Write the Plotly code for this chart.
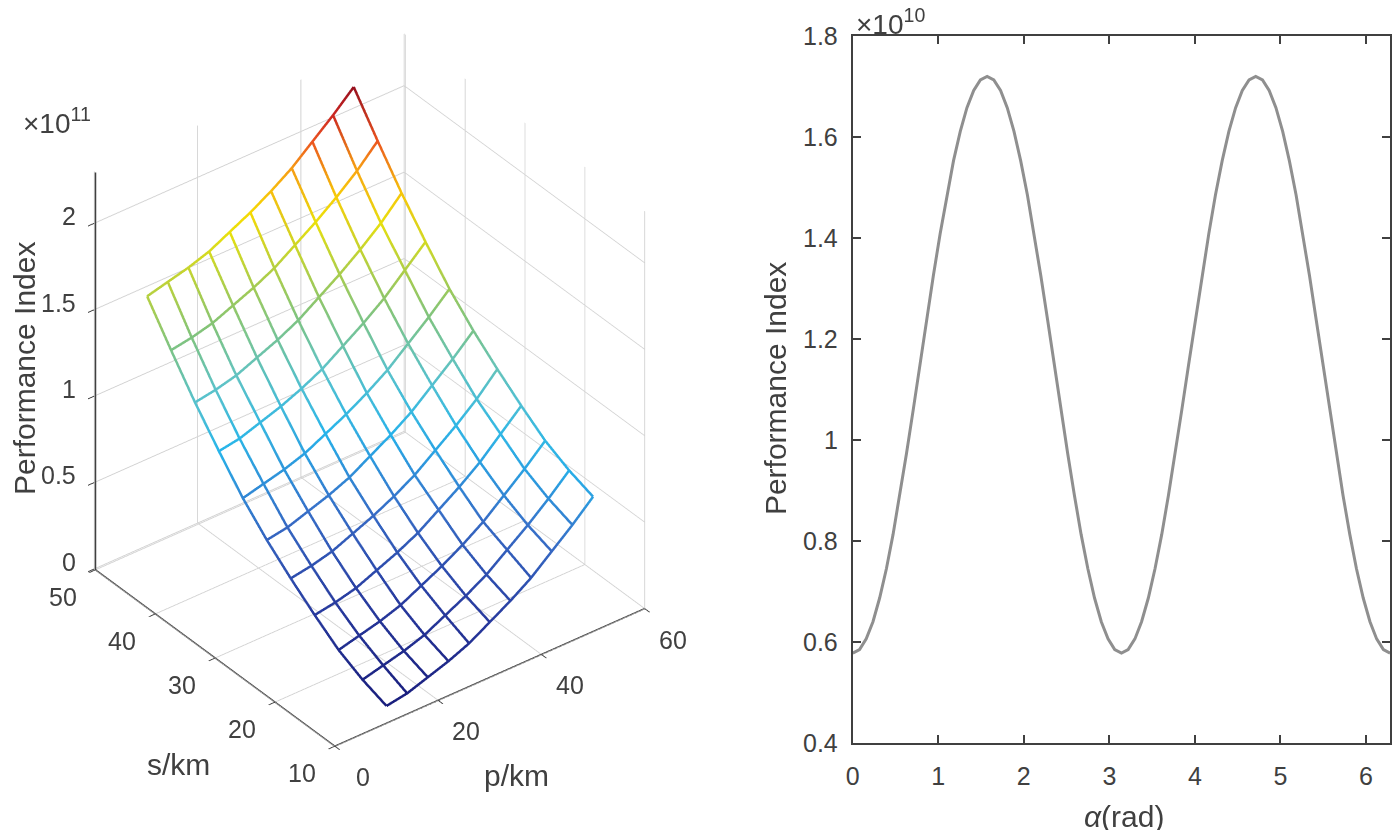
import plotly.graph_objects as go

# left: mesh of the performance index over p and s (values in 1e11)
p_km = [10, 14, 18, 22, 26, 30, 34, 38, 42, 46, 50]
s_km = [10, 14, 18, 22, 26, 30, 34, 38, 42, 46, 50]
perf = [  # rows follow s_km, columns follow p_km
    [0.10, 0.12, 0.16, 0.20, 0.25, 0.32, 0.39, 0.47, 0.57, 0.67, 0.78],
    [0.15, 0.18, 0.21, 0.25, 0.31, 0.37, 0.44, 0.53, 0.62, 0.72, 0.83],
    [0.22, 0.25, 0.28, 0.32, 0.38, 0.44, 0.51, 0.59, 0.69, 0.79, 0.90],
    [0.32, 0.34, 0.37, 0.42, 0.47, 0.53, 0.61, 0.69, 0.78, 0.89, 1.00],
    [0.43, 0.45, 0.48, 0.53, 0.58, 0.64, 0.71, 0.80, 0.89, 0.99, 1.11],
    [0.55, 0.57, 0.61, 0.65, 0.70, 0.77, 0.84, 0.92, 1.02, 1.12, 1.23],
    [0.69, 0.72, 0.75, 0.79, 0.85, 0.91, 0.98, 1.06, 1.16, 1.26, 1.37],
    [0.86, 0.88, 0.92, 0.96, 1.01, 1.07, 1.15, 1.23, 1.32, 1.43, 1.54],
    [1.04, 1.06, 1.09, 1.14, 1.19, 1.25, 1.33, 1.41, 1.50, 1.60, 1.72],
    [1.24, 1.26, 1.29, 1.34, 1.39, 1.45, 1.53, 1.61, 1.70, 1.80, 1.92],
    [1.45, 1.48, 1.51, 1.55, 1.61, 1.67, 1.74, 1.82, 1.92, 2.02, 2.13],
]
p_range = [0, 60]
s_range = [10, 50]
z_range = [0, 2.3]
p_ticks = [0, 20, 40, 60]
s_ticks = [10, 20, 30, 40, 50]
z_ticks = [0, 0.5, 1, 1.5, 2]
z_ticktext = ['0', '0.5', '1', '1.5', '2']

# right: performance index against alpha (values in 1e10)
alpha = [0, 0.079, 0.157, 0.236, 0.314, 0.393, 0.471, 0.550, 0.628, 0.707,
         0.785, 0.864, 0.942, 1.021, 1.100, 1.178, 1.257, 1.335, 1.414, 1.492,
         1.571, 1.649, 1.728, 1.806, 1.885, 1.963, 2.042, 2.121, 2.199, 2.278,
         2.356, 2.435, 2.513, 2.592, 2.670, 2.749, 2.827, 2.906, 2.985, 3.063,
         3.142, 3.220, 3.299, 3.377, 3.456, 3.534, 3.613, 3.691, 3.770, 3.848,
         3.927, 4.006, 4.084, 4.163, 4.241, 4.320, 4.398, 4.477, 4.555, 4.634,
         4.712, 4.791, 4.869, 4.948, 5.027, 5.105, 5.184, 5.262, 5.341, 5.419,
         5.498, 5.576, 5.655, 5.733, 5.812, 5.890, 5.969, 6.048, 6.126, 6.205,
         6.283]
perf_alpha = [0.578, 0.585, 0.606, 0.640, 0.687, 0.745, 0.813, 0.890, 0.973, 1.060,
              1.149, 1.238, 1.325, 1.408, 1.485, 1.553, 1.611, 1.658, 1.692, 1.713,
              1.720, 1.713, 1.692, 1.658, 1.611, 1.553, 1.485, 1.408, 1.325, 1.238,
              1.149, 1.060, 0.973, 0.890, 0.813, 0.745, 0.687, 0.640, 0.606, 0.585,
              0.578, 0.585, 0.606, 0.640, 0.687, 0.745, 0.813, 0.890, 0.973, 1.060,
              1.149, 1.238, 1.325, 1.408, 1.485, 1.553, 1.611, 1.658, 1.692, 1.713,
              1.720, 1.713, 1.692, 1.658, 1.611, 1.553, 1.485, 1.408, 1.325, 1.238,
              1.149, 1.060, 0.973, 0.890, 0.813, 0.745, 0.687, 0.640, 0.606, 0.585,
              0.578]
alpha_ticks = [0, 1, 2, 3, 4, 5, 6]
perf_ticks = [0.4, 0.6, 0.8, 1.0, 1.2, 1.4, 1.6, 1.8]
perf_ticktext = ['0.4', '0.6', '0.8', '1', '1.2', '1.4', '1.6', '1.8']

FW, FH = 1400, 830
TXT = '#404040'
FONT = 'Liberation Sans, Arial, Helvetica, sans-serif'


# screen pixel -> paper fraction (the page shows the figure offset and slightly squeezed)
def fx(px):
    return min(max((px - 8) / FW, 0.0), 1.0)


def fy(px):
    return min(max(1 - (px - 19) / 806.5, 0.0), 1.0)


mesh_colors = [
    [0.0, 'rgb(25,30,125)'],
    [0.12, 'rgb(40,60,160)'],
    [0.25, 'rgb(55,110,200)'],
    [0.37, 'rgb(38,180,235)'],
    [0.48, 'rgb(95,195,200)'],
    [0.58, 'rgb(130,195,120)'],
    [0.68, 'rgb(190,210,55)'],
    [0.76, 'rgb(245,228,0)'],
    [0.84, 'rgb(248,165,20)'],
    [0.92, 'rgb(230,50,35)'],
    [1.0, 'rgb(150,15,30)'],
]
zmin = min(min(r) for r in perf)
zmax = max(max(r) for r in perf)

fig = go.Figure()


def mesh_line(xs, ys, zs):
    fig.add_trace(go.Scatter3d(
        x=xs, y=ys, z=zs, mode='lines', showlegend=False, hoverinfo='skip',
        line=dict(color=zs, colorscale=mesh_colors, cmin=zmin, cmax=zmax, width=5),
    ))


# lines of constant s
for j, s in enumerate(s_km):
    mesh_line(p_km, [s] * len(p_km), perf[j])
# lines of constant p
for i, p in enumerate(p_km):
    mesh_line([p] * len(s_km), s_km, [row[i] for row in perf])


# darker axis lines along the front edges (webgl axis lines stay 1px)
def axis_line(xs, ys, zs):
    fig.add_trace(go.Scatter3d(
        x=xs, y=ys, z=zs, mode='lines', showlegend=False, hoverinfo='skip',
        line=dict(color='#404040', width=3),
    ))


axis_line(p_range, [s_range[0]] * 2, [z_range[0]] * 2)
axis_line([p_range[0]] * 2, s_range, [z_range[0]] * 2)
axis_line([p_range[0]] * 2, [s_range[1]] * 2, z_range)

fig.add_trace(go.Scatter(
    x=alpha, y=perf_alpha, mode='lines', showlegend=False,
    line=dict(color='#8f8f8f', width=3), xaxis='x', yaxis='y',
))

ax3d = dict(
    showbackground=False, showgrid=True, gridcolor='#d2d2d2', gridwidth=2,
    zeroline=False, showline=False,
    ticks='outside', tickcolor='#3a3a3a', ticklen=8, tickwidth=2, showspikes=False,
    showticklabels=False, title=dict(text=''),
)

# horizontal tick labels for the 3d axes, placed at the tick positions
tick_font = dict(family=FONT, size=25, color=TXT)
scene_notes = []
for t in p_ticks:
    scene_notes.append(dict(x=t, y=s_range[0], z=0, text=str(t), showarrow=False,
                            xshift=28, yshift=-31, font=tick_font))
for t in s_ticks:
    scene_notes.append(dict(x=p_range[0], y=t, z=0, text=str(t), showarrow=False,
                            xshift=-33, yshift=-27, font=tick_font))
for t, lab in zip(z_ticks, z_ticktext):
    scene_notes.append(dict(x=p_range[0], y=s_range[1], z=t, text=lab, showarrow=False,
                            xanchor='right', xshift=-18, yshift=8, font=tick_font))

eye = 1.375
fig.update_layout(
    width=FW, height=FH,
    margin=dict(l=0, r=0, t=0, b=0),
    paper_bgcolor='white', plot_bgcolor='white',
    font=dict(family=FONT, size=25, color=TXT),
    scene=dict(
        domain=dict(x=[0.0, 0.5093], y=[0.0824, 1.0]),
        xaxis=dict(ax3d, range=p_range, tickvals=p_ticks),
        yaxis=dict(ax3d, range=[s_range[0], s_range[1] + 0.2], tickvals=s_ticks),
        zaxis=dict(ax3d, range=z_range, tickvals=z_ticks),
        aspectmode='manual', aspectratio=dict(x=1.066, y=1.066, z=1.317),
        camera=dict(projection=dict(type='orthographic'),
                    eye=dict(x=-0.503 * eye, y=-0.648 * eye, z=0.572 * eye),
                    up=dict(x=0, y=0, z=1), center=dict(x=0, y=0, z=0)),
        annotations=scene_notes,
    ),
    xaxis=dict(
        domain=[fx(850), fx(1390)], range=[0, 6.2832], tickvals=alpha_ticks,
        showline=True, mirror='ticks', linecolor=TXT, linewidth=2,
        ticks='inside', ticklen=8, tickwidth=1.5, tickcolor=TXT,
        showgrid=False, zeroline=False, ticklabelstandoff=10, tickfont=tick_font,
    ),
    yaxis=dict(
        domain=[fy(744), fy(33)], range=[0.4, 1.8],
        tickvals=perf_ticks, ticktext=perf_ticktext,
        showline=True, mirror='ticks', linecolor=TXT, linewidth=2,
        ticks='inside', ticklen=8, tickwidth=1.5, tickcolor=TXT,
        showgrid=False, zeroline=False, ticklabelstandoff=8, tickfont=tick_font,
    ),
)


def note(text, x, y, size=30, angle=0, xanchor='center'):
    fig.add_annotation(text=text, x=fx(x), y=fy(y), xref='paper', yref='paper',
                       showarrow=False, textangle=angle, xanchor=xanchor, yanchor='middle',
                       font=dict(family=FONT, size=size, color=TXT))


note('Performance Index', 17, 367, angle=-90)
note('×10<sup>11</sup>', 14, 119, size=28, xanchor='left')
note('s/km', 172, 766)
note('p/km', 512, 777)
note('Performance Index', 773, 388, angle=-90)
note('×10<sup>10</sup>', 851, 15, size=28, xanchor='left')
note('<i>α</i>(rad)', 1123, 818)

fig.write_html("out.html")
